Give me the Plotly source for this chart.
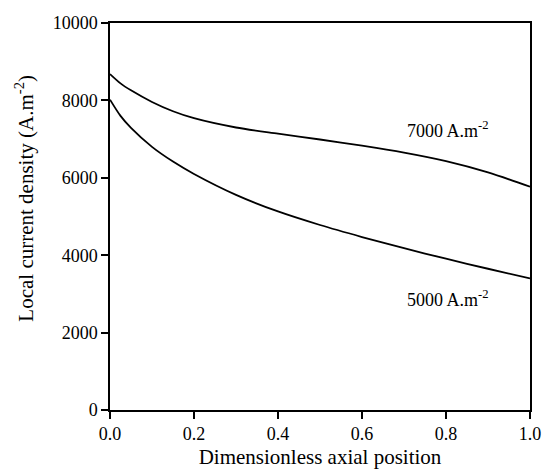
import plotly.graph_objects as go

x_pos = [0, 0.025, 0.05, 0.1, 0.15, 0.2, 0.3, 0.4, 0.5, 0.6, 0.7, 0.8, 0.9, 1.0]
j_7000 = [8680, 8440, 8260, 7960, 7720, 7540, 7300, 7140, 6990, 6830, 6650, 6430, 6140, 5770]
j_5000 = [8020, 7600, 7290, 6800, 6420, 6100, 5560, 5130, 4780, 4470, 4180, 3910, 3650, 3400]

x_ticks = [0, 0.2, 0.4, 0.6, 0.8, 1.0]
x_ticklabels = ["0.0", "0.2", "0.4", "0.6", "0.8", "1.0"]
y_ticks = [0, 2000, 4000, 6000, 8000, 10000]
y_ticklabels = ["0", "2000", "4000", "6000", "8000", "10000"]

font_family = "Liberation Serif"

fig = go.Figure()
fig.add_trace(go.Scatter(x=x_pos, y=j_7000, mode="lines",
                         line=dict(color="black", width=1.8, shape="spline", smoothing=0.8),
                         name="7000", showlegend=False))
fig.add_trace(go.Scatter(x=x_pos, y=j_5000, mode="lines",
                         line=dict(color="black", width=1.8, shape="spline", smoothing=0.8),
                         name="5000", showlegend=False))

fig.add_annotation(x=0.805, y=7240, text="7000 A.m<sup>-2</sup>", showarrow=False,
                   font=dict(family=font_family, size=18, color="black"))
fig.add_annotation(x=0.805, y=2890, text="5000 A.m<sup>-2</sup>", showarrow=False,
                   font=dict(family=font_family, size=18, color="black"))
fig.add_annotation(xref="paper", yref="paper", x=-0.203, y=0.548,
                   text="Local current density (A.m<sup>-2</sup>)", textangle=-90,
                   showarrow=False, xanchor="center", yanchor="middle",
                   font=dict(family=font_family, size=21, color="black"))

axis_common = dict(showline=True, linecolor="black", linewidth=1.5, mirror=True,
                   ticks="outside", ticklen=7, tickwidth=1.5, tickcolor="black",
                   showgrid=False, zeroline=False, automargin=False,
                   tickfont=dict(family=font_family, size=18, color="black"))

fig.update_xaxes(range=[0, 1], tickvals=x_ticks, ticktext=x_ticklabels,
                 title=dict(text="Dimensionless axial position", standoff=6,
                            font=dict(family=font_family, size=21, color="black")),
                 **axis_common)
fig.update_yaxes(range=[0, 10000], tickvals=y_ticks, ticktext=y_ticklabels,
                 **axis_common)

fig.update_layout(width=544, height=473, margin=dict(l=110, r=14, t=23, b=63),
                  plot_bgcolor="white", paper_bgcolor="white")

fig.write_html("out.html", config={"displayModeBar": False},
               post_script="document.body.style.margin='0';document.body.style.overflow='hidden';")
